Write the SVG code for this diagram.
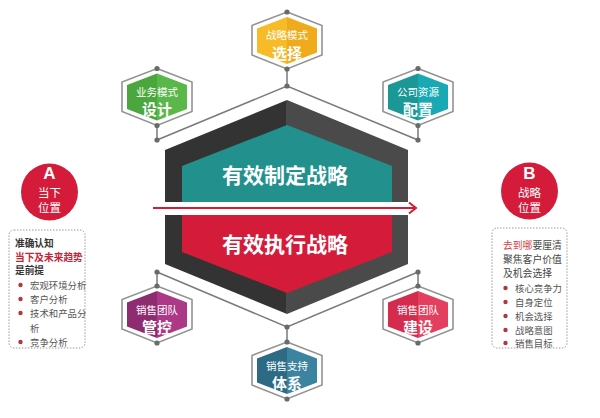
<svg xmlns="http://www.w3.org/2000/svg" width="600" height="418" viewBox="0 0 600 418">
<style>
text{font-family:"Noto Sans CJK SC","Noto Sans",sans-serif;}
.n1{font-size:10.5px;fill:#fff;text-anchor:middle;}
.n2{font-size:15px;font-weight:bold;fill:#fff;text-anchor:middle;}
.big{font-size:21px;font-weight:bold;fill:#fff;text-anchor:middle;}
.conn{stroke:#7a7a7a;stroke-width:1.5;fill:none;}
.dot{fill:#6a6a6a;}
.box{fill:#fff;stroke:#9a9a9a;stroke-width:1;stroke-dasharray:1.5 1.5;}
.ct{fill:#fff;text-anchor:middle;}
.cl{font-family:"Liberation Sans",sans-serif;font-size:17px;font-weight:bold;}
.cc{font-size:11.5px;}
.bt{font-size:9.7px;font-weight:bold;fill:#333;}
.rt{font-size:9.4px;fill:#555;}
.rr{font-size:9.8px;fill:#444;}
.bul{fill:#b0373a;}
.ho{fill:#fff;stroke:#939393;stroke-width:1.6;}
</style>
<defs>
<polygon id="hexOuter" points="0,-28.5 35,-15 35,14.5 0,28.5 -35,14.5 -35,-15"/>
<polygon id="hexInner" points="0,-23.5 30,-12 30,12 0,23.5 -30,12 -30,-12"/>
<linearGradient id="gY" x1="0" x2="1" y1="0" y2="0"><stop offset="0.5" stop-color="#f6bb27"/><stop offset="0.5" stop-color="#f0ab1d"/></linearGradient>
<linearGradient id="gG" x1="0" x2="1" y1="0" y2="0"><stop offset="0.5" stop-color="#4ca63e"/><stop offset="0.5" stop-color="#5ab74a"/></linearGradient>
<linearGradient id="gT" x1="0" x2="1" y1="0" y2="0"><stop offset="0.5" stop-color="#1b9896"/><stop offset="0.5" stop-color="#19a9b4"/></linearGradient>
<linearGradient id="gP" x1="0" x2="1" y1="0" y2="0"><stop offset="0.5" stop-color="#8f2b6f"/><stop offset="0.5" stop-color="#ab3987"/></linearGradient>
<linearGradient id="gR" x1="0" x2="1" y1="0" y2="0"><stop offset="0.5" stop-color="#d52b4d"/><stop offset="0.5" stop-color="#e33f5e"/></linearGradient>
<linearGradient id="gB" x1="0" x2="1" y1="0" y2="0"><stop offset="0.5" stop-color="#2d6b85"/><stop offset="0.5" stop-color="#3c83a0"/></linearGradient>
<linearGradient id="gF" x1="0" x2="1" y1="0" y2="0"><stop offset="0.5" stop-color="#333"/><stop offset="0.5" stop-color="#4a4a4a"/></linearGradient>
</defs>

<g id="connectors">
<path class="conn" d="M157,140 L287,86 L418,140 M157,272 L287,327 L418,272 M287,86 V69 M157,140 V126 M418,140 V126 M157,272 V286 M418,272 V286 M287,327 V342"/>
<g class="dot">
<circle cx="287" cy="86" r="2.6"/><circle cx="157" cy="140" r="2.6"/><circle cx="418" cy="140" r="2.6"/>
<circle cx="157" cy="272" r="2.6"/><circle cx="418" cy="272" r="2.6"/><circle cx="287" cy="327" r="2.6"/>
</g>
</g>

<g id="core">
<polygon points="287,100 408,150 408,264 287,314 165,264 165,150" fill="url(#gF)"/>
<polygon points="287,125 392,166 392,202 182,202 182,166" fill="#22918e"/>
<polygon points="182,215 392,215 392,252 287,293 182,252" fill="#d41c3a"/>
<rect x="160" y="202" width="255" height="13" fill="#fff"/>
<text class="big" x="285" y="183">有效制定战略</text>
<text class="big" x="285" y="252">有效执行战略</text>
<path d="M153,208 H416 M409,202.5 L416,208 L409,213.5" stroke="#d41c3a" stroke-width="2" fill="none"/>
</g>

<g id="node-top" transform="translate(287,40.5)">
<use href="#hexOuter" class="ho"/><use href="#hexInner" fill="url(#gY)"/>
<circle class="dot" cx="0" cy="-28.5" r="2.6"/><circle class="dot" cx="0" cy="28.5" r="2.6"/>
<text class="n1" y="-1.5">战略模式</text><text class="n2" y="18">选择</text>
</g>
<g id="node-left" transform="translate(157,97)">
<use href="#hexOuter" class="ho"/><use href="#hexInner" fill="url(#gG)"/>
<circle class="dot" cx="0" cy="-28.5" r="2.6"/><circle class="dot" cx="0" cy="28.5" r="2.6"/>
<text class="n1" y="-1.5">业务模式</text><text class="n2" y="18">设计</text>
</g>
<g id="node-right" transform="translate(418,97)">
<use href="#hexOuter" class="ho"/><use href="#hexInner" fill="url(#gT)"/>
<circle class="dot" cx="0" cy="-28.5" r="2.6"/><circle class="dot" cx="0" cy="28.5" r="2.6"/>
<text class="n1" y="-1.5">公司资源</text><text class="n2" y="18">配置</text>
</g>
<g id="node-lowerleft" transform="translate(157,314.5)">
<use href="#hexOuter" class="ho"/><use href="#hexInner" fill="url(#gP)"/>
<circle class="dot" cx="0" cy="-28.5" r="2.6"/><circle class="dot" cx="0" cy="28.5" r="2.6"/>
<text class="n1" y="-0.5">销售团队</text><text class="n2" y="18.5">管控</text>
</g>
<g id="node-lowerright" transform="translate(418,314.5)">
<use href="#hexOuter" class="ho"/><use href="#hexInner" fill="url(#gR)"/>
<circle class="dot" cx="0" cy="-28.5" r="2.6"/><circle class="dot" cx="0" cy="28.5" r="2.6"/>
<text class="n1" y="-0.5">销售团队</text><text class="n2" y="18.5">建设</text>
</g>
<g id="node-bottom" transform="translate(287,370.5)">
<use href="#hexOuter" class="ho"/><use href="#hexInner" fill="url(#gB)"/>
<circle class="dot" cx="0" cy="-28.5" r="2.6"/><circle class="dot" cx="0" cy="28.5" r="2.6"/>
<text class="n1" y="-0.5">销售支持</text><text class="n2" y="18.5">体系</text>
</g>

<g id="panel-a">
<circle cx="49.5" cy="192" r="28.5" fill="#d41c3a"/>
<text class="ct cl" x="49.5" y="179">A</text>
<text class="ct cc" x="49.5" y="196.5">当下</text>
<text class="ct cc" x="49.5" y="212">位置</text>
<rect class="box" x="9" y="230" width="76" height="118" rx="5"/>
<text class="bt" x="15" y="247">准确认知</text>
<text class="bt" x="15" y="261" style="fill:#c0283a">当下及未来趋势</text>
<text class="bt" x="15" y="274">是前提</text>
<circle class="bul" cx="20.5" cy="285" r="2.2"/><text class="rt" x="30" y="289">宏观环境分析</text>
<circle class="bul" cx="20.5" cy="299" r="2.2"/><text class="rt" x="30" y="303">客户分析</text>
<circle class="bul" cx="20.5" cy="313" r="2.2"/><text class="rt" x="30" y="317">技术和产品分</text>
<text class="rt" x="30" y="332">析</text>
<circle class="bul" cx="20.5" cy="342" r="2.2"/><text class="rt" x="30" y="346">竞争分析</text>
</g>

<g id="panel-b">
<circle cx="529.5" cy="191" r="28.5" fill="#d41c3a"/>
<text class="ct cl" x="529.5" y="178.5">B</text>
<text class="ct cc" x="529.5" y="196.5">战略</text>
<text class="ct cc" x="529.5" y="212">位置</text>
<rect class="box" x="492" y="228" width="75" height="120" rx="5"/>
<text class="rr" x="503" y="249"><tspan fill="#d0454a">去到哪</tspan>要厘清</text>
<text class="rr" x="503" y="263">聚焦客户价值</text>
<text class="rr" x="503" y="277">及机会选择</text>
<circle class="bul" cx="505.5" cy="288" r="2.2"/><text class="rt" x="515" y="292">核心竞争力</text>
<circle class="bul" cx="505.5" cy="302" r="2.2"/><text class="rt" x="515" y="306">自身定位</text>
<circle class="bul" cx="505.5" cy="316" r="2.2"/><text class="rt" x="515" y="320">机会选择</text>
<circle class="bul" cx="505.5" cy="330" r="2.2"/><text class="rt" x="515" y="334">战略意图</text>
<circle class="bul" cx="505.5" cy="343" r="2.2"/><text class="rt" x="515" y="347">销售目标</text>
</g>
</svg>
